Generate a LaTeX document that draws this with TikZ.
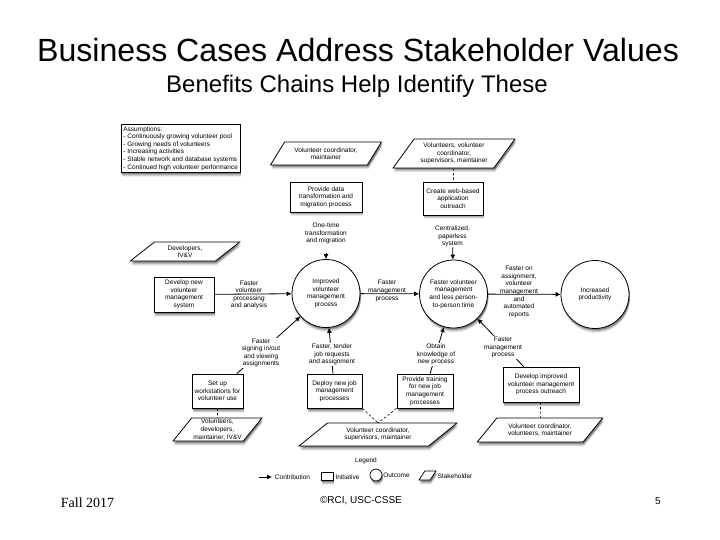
\documentclass[tikz,border=0pt]{standalone}
\usepackage{fontspec}
\setmainfont{Liberation Sans}
\newfontfamily\serifnm{Liberation Serif}
\usetikzlibrary{shapes.geometric,arrows.meta}
\tikzset{
  softshadow/.style={
    preaction={draw=none,fill=black,fill opacity=.16,transform canvas={xshift=.5pt,yshift=-.5pt}},
    preaction={draw=none,fill=black,fill opacity=.20,transform canvas={xshift=1pt,yshift=-1.5pt}},
    preaction={draw=none,fill=black,fill opacity=.18,transform canvas={xshift=1pt,yshift=-2.5pt}},
    preaction={draw=none,fill=black,fill opacity=.12,transform canvas={xshift=1pt,yshift=-3.5pt}},
    preaction={draw=none,fill=black,fill opacity=.07,transform canvas={xshift=1pt,yshift=-4.5pt}}},
  txt/.style={font=\fontsize{6.5}{7.6}\selectfont,align=center,inner sep=0pt,text=black},
  lbl/.style={txt},
  wlbl/.style={txt,fill=white,inner xsep=1pt,inner ysep=1pt},
  initbox/.style={txt,draw=black,line width=.8pt,fill=white,softshadow,minimum width=#1},
  outcome/.style={txt,circle,draw=black,line width=.8pt,fill=white,softshadow,minimum size=68pt},
  stk/.style={txt,trapezium,draw=black,line width=.8pt,fill=white,softshadow,trapezium stretches=true},
  flow/.style={line width=.8pt,-{Latex[length=5pt,width=5pt]}},
  tie/.style={line width=.6pt,dash pattern=on 2.5pt off 2pt},
  title/.style={inner sep=0pt,text=black},
}
\begin{document}
\begin{tikzpicture}[x=1pt,y=-1pt]
\useasboundingbox (0,0) rectangle (720,540);
\fill[white] (0,0) rectangle (720,540);

\node[title,font=\fontsize{32.1}{34}\selectfont] (ttl) at (358,50.5) {Business Cases Address Stakeholder Values};
\node[title,font=\fontsize{24}{28}\selectfont] (sub) at (357,86) {Benefits Chains Help Identify These};

% assumptions
\node[initbox=119pt,minimum height=48pt,align=left,anchor=north west] (assume) at (121,124) {\parbox{115pt}{\raggedright Assumptions:\\- Continuously growing volunteer pool\\- Growing needs of volunteers\\- Increasing activities\\- Stable network and database systems\\- Continued high volunteer performance}};

% outcomes
\node[outcome] (c1) at (326,293.5) {Improved\\volunteer\\management\\process};
\node[outcome] (c2) at (453.5,294) {Faster volunteer\\management\\and less person-\\to-person time};
\node[outcome] (c3) at (595,294.5) {Increased\\productivity};

% initiatives
\node[initbox=72pt,minimum height=30pt] (provide) at (326,197) {Provide data\\transformation and\\migration process};
\node[initbox=60pt,minimum height=33pt] (create) at (453,198.5) {Create web-based\\application\\outreach};
\node[initbox=60pt,minimum height=35pt] (draw) at (184,294.5) {Develop new\\volunteer\\management\\system};
\node[initbox=51pt,minimum height=34pt] (setup) at (217.5,391) {Set up\\workstations for\\volunteer use};
\node[initbox=55pt,minimum height=34pt] (deploy) at (334.5,391) {Deploy new job\\management\\processes};
\node[initbox=56pt,minimum height=34pt] (train) at (425,391) {Provide training\\for new job\\management\\processes};
\node[initbox=76pt,minimum height=35pt] (improve) at (541,384.5) {Develop improved\\volunteer management\\process outreach};

% stakeholders
\node[stk,minimum width=112pt,minimum height=23pt,trapezium left angle=49,trapezium right angle=131] (s1) at (326,153.5) {Volunteer coordinator,\\maintainer};
\node[stk,minimum width=122pt,minimum height=29pt,trapezium left angle=50,trapezium right angle=130] (s2) at (454,153.5) {Volunteers, volunteer\\coordinator,\\supervisors, maintainer};
\node[stk,minimum width=110pt,minimum height=19pt,trapezium left angle=42,trapezium right angle=138] (s3) at (185,251.5) {Developers,\\IV\&V};
\node[stk,minimum width=89pt,minimum height=23pt,trapezium left angle=50,trapezium right angle=130] (s4) at (217.5,429.5) {Volunteers,\\developers,\\maintainer, IV\&V};
\node[stk,minimum width=158pt,minimum height=23pt,trapezium left angle=36,trapezium right angle=144] (s5) at (378,434.5) {Volunteer coordinator,\\supervisors, maintainer};
\node[stk,minimum width=126pt,minimum height=24pt,trapezium left angle=42,trapezium right angle=138] (s6) at (540,430) {Volunteer coordinator,\\volunteers, maintainer};

% connectors
\coordinate (apex) at (378,423);
\draw[tie] (s2) -- (create);
\draw[tie] (setup) -- (s4);
\draw[tie] (improve) -- (s6);
\draw[tie] (deploy.south east) -- (apex);
\draw[tie] (train.south west) -- (apex);

\draw[flow] (draw) -- (c1);
\draw[flow] (c1) -- (c2);
\draw[flow] (c2) -- (c3);
\draw[flow] (setup) -- (c1);
\draw[flow] (deploy) -- (c1);
\draw[flow] (train) -- (c2);
\draw[flow] (improve) -- (c2);

\node[lbl] (l0) at (326,233.5) {One-time\\transformation\\and migration};
\coordinate (l0end) at (326,253);
\draw[flow] (l0end) -- (c1);
\node[lbl] (l1) at (452.5,236.5) {Centralized,\\paperless\\system};
\draw[flow] (l1) -- (c2);
\node[lbl] (l2) at (249,295) {Faster\\volunteer\\processing\\and analysis};
\node[lbl] (l3) at (387,291) {Faster\\management\\process};
\node[lbl] (l4) at (519,292) {Faster on\\assignment,\\volunteer\\management\\and\\automated\\reports};
\node[wlbl] (l5) at (261,353) {Faster\\signing in/out\\and viewing\\assignments};
\node[wlbl] (l6) at (332,354.5) {Faster, tender\\job requests\\and assignment};
\node[wlbl] (l7) at (436,354.5) {Obtain\\knowledge of\\new process};
\node[wlbl] (l8) at (503,347.5) {Faster\\management\\process};

% legend
\node[lbl] (leg) at (366,461) {Legend};
\coordinate (la) at (259,477);
\coordinate (lb) at (272,477);
\draw[flow] (la) -- (lb);
\node[lbl] (lc) at (292.5,477) {Contribution};
\node[draw=black,line width=.7pt,fill=white,softshadow,minimum width=12pt,minimum height=8pt,inner sep=0pt] (lbx) at (327,476) {};
\node[lbl] (li) at (347.5,477) {Initiative};
\node[draw=black,line width=.7pt,fill=white,softshadow,circle,minimum size=12pt,inner sep=0pt] (lci) at (376,475) {};
\node[lbl] (lo) at (396.5,475) {Outcome};
\node[draw=black,line width=.7pt,fill=white,softshadow,trapezium,trapezium stretches=true,minimum width=17pt,minimum height=9pt,inner sep=1pt,trapezium left angle=52,trapezium right angle=128] (lp) at (427.5,475.5) {\rule{0pt}{1pt}};
\node[lbl] (ls) at (455,476) {Stakeholder};

% footer
\node[title,font=\serifnm\fontsize{14}{16}\selectfont] (f1) at (87.5,503) {Fall 2017};
\node[title,font=\fontsize{10}{12}\selectfont] (f2) at (361,500.5) {©RCI, USC-CSSE};
\node[title,font=\fontsize{10}{12}\selectfont] (f3) at (658,501) {5};
\end{tikzpicture}
\end{document}
